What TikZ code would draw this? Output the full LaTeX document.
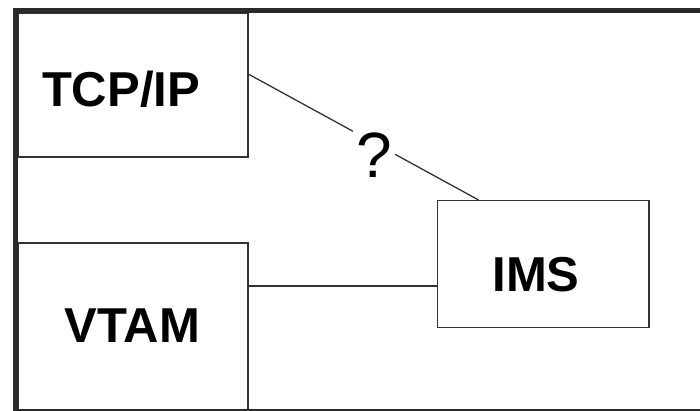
\documentclass[tikz,border=0pt]{standalone}
\usepackage{fontspec}
\setmainfont{Liberation Sans}
\definecolor{framegray}{HTML}{2A2A2A}
\definecolor{linegray}{HTML}{333333}
\begin{document}
\begin{tikzpicture}[x=1pt,y=1pt,
  box/.style={draw=linegray, line width=1.5pt, rectangle, inner sep=0pt, fill=white},
  lbl/.style={anchor=base, inner sep=0pt, font=\fontsize{49}{58}\selectfont\bfseries},
  conn/.style={draw=linegray, line width=1.3pt}]
\useasboundingbox (0,0) rectangle (700,411);
\fill[white] (0,0) rectangle (700,411);
\begin{scope}
\clip (0,0) rectangle (700,411);
% boxes
\node[box, minimum width=230pt, minimum height=144pt] (tcp) at (133,326) {};
\node[box, minimum width=230pt, minimum height=168.5pt] (vtam) at (133,83.75) {};
\node[box, minimum width=211.3pt, minimum height=127pt] (ims) at (543.3,146.8) {};
% labels
\node[lbl] (tcpl) at (121,304) {TCP/IP};
\node[lbl] (vtaml) at (132.3,68) {VTAM};
\node[lbl] (imsl) at (536,119.3) {IMS};
% question mark and the gap in the connector
\node[circle, minimum size=47.8pt, inner sep=0pt] (q) at (374,268.2) {};
\node[anchor=base, inner sep=0pt, font=\fontsize{64}{72}\selectfont] (qm) at (374,233) {?};
% connectors
\draw[conn] ([yshift=10.7pt]tcp.east) -- (q);
\draw[conn] (q) -- ([xshift=41.6pt]ims.north west);
\draw[conn] (vtam.east |- 0,125) -- (ims.west |- 0,125);
% outer frame
\draw[framegray, line width=5pt] (15.5,-0.5) rectangle (720,400.5);
\end{scope}
\end{tikzpicture}
\end{document}
